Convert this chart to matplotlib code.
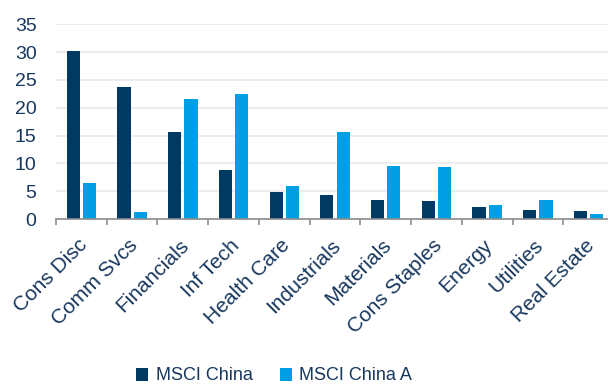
import matplotlib.pyplot as plt
import matplotlib.transforms as mtransforms
import numpy as np

SECTORS = ["Cons Disc", "Comm Svcs", "Financials", "Inf Tech", "Health Care",
           "Industrials", "Materials", "Cons Staples", "Energy", "Utilities",
           "Real Estate"]
MSCI_CHINA = [30.2, 23.7, 15.6, 8.8, 4.9, 4.3, 3.5, 3.2, 2.2, 1.6, 1.5]
MSCI_CHINA_A = [6.5, 1.3, 21.6, 22.5, 6.0, 15.6, 9.6, 9.3, 2.6, 3.5, 0.9]
Y_TICKS = [0, 5, 10, 15, 20, 25, 30, 35]

DARK = "#003A63"
LIGHT = "#009FE3"
TEXT = "#17375E"

plt.rcParams["font.family"] = ["Liberation Sans", "DejaVu Sans"]

fig = plt.figure(figsize=(6.08, 3.85), dpi=100)
ax = fig.add_axes([56 / 608, 166 / 385, 558 / 608, 194.7 / 385])

x = np.arange(len(SECTORS))
w = 0.26
ax.bar(x - 0.16, MSCI_CHINA, w, color=DARK, label="MSCI China", zorder=3)
ax.bar(x + 0.16, MSCI_CHINA_A, w, color=LIGHT, label="MSCI China A", zorder=3)

ax.set_xlim(-0.5, len(SECTORS) - 0.5)
ax.set_ylim(0, 35)
ax.set_yticks(Y_TICKS)
ax.tick_params(axis="y", length=0, pad=14, labelsize=14, labelcolor=TEXT)
ax.yaxis.grid(True, color="#EDEDED", linewidth=1.5, zorder=0)

ax.set_xticks(x)
ax.set_xticklabels(SECTORS, rotation=45, ha="right", va="top",
                   rotation_mode="anchor", fontsize=15, color=TEXT)
ax.tick_params(axis="x", which="major", length=0, pad=12)
shift = mtransforms.ScaledTranslation(-4 / 100, 0, fig.dpi_scale_trans)
for lbl in ax.get_xticklabels():
    lbl.set_transform(lbl.get_transform() + shift)
ax.set_xticks(np.arange(len(SECTORS) + 1) - 0.5, minor=True)
ax.tick_params(axis="x", which="minor", length=4, width=1.2, color="#8C8C8C")

for s in ["top", "right", "left"]:
    ax.spines[s].set_visible(False)
ax.spines["bottom"].set_color("#8C8C8C")
ax.spines["bottom"].set_linewidth(1.2)
ax.spines["bottom"].set_zorder(4)

fig.legend(loc="center", bbox_to_anchor=(274 / 608, 1 - 376 / 385), ncol=2,
           frameon=False, fontsize=13, labelcolor=TEXT, handlelength=0.7,
           handleheight=0.7, handletextpad=0.4, columnspacing=1.5)

fig.savefig("out.png", dpi=100)
